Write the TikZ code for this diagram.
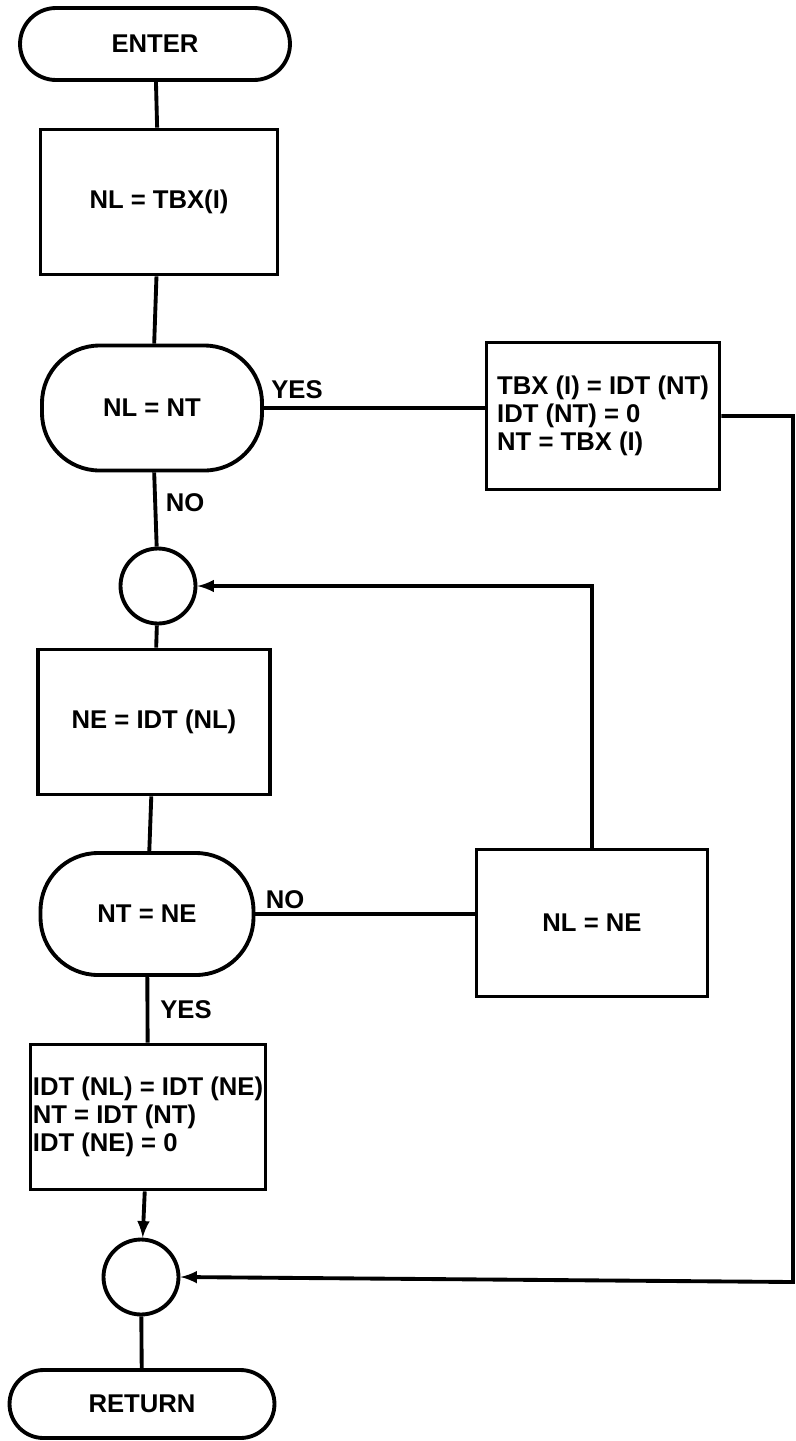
\documentclass[tikz,border=0pt]{standalone}
\usepackage{fontspec}
\setmainfont{Liberation Sans}
\usetikzlibrary{arrows}

\begin{document}
\begin{tikzpicture}[x=0.02cm, y=-0.02cm, >=latex, line width=2.2pt,
  every node/.style={font=\fontsize{14.6}{15.8}\selectfont\bfseries, align=center},
  term/.style={draw, rectangle, inner sep=0pt},
  proc/.style={draw, rectangle, inner sep=0pt},
  test/.style={draw, rectangle, rounded corners=1.15cm, inner sep=0pt},
  junc/.style={draw, circle, minimum size=1.5cm, inner sep=0pt},
  lbl/.style={inner sep=0pt}]
  \useasboundingbox (0,0) rectangle (795,1441);

  \node (enter) [term, rounded corners=0.72cm, minimum width=5.4cm, minimum height=1.44cm] at (155,44) {ENTER};
  \node (setnl) [proc, minimum width=4.74cm, minimum height=2.9cm] at (159,202) {NL = TBX(I)};
  \node (testnt) [test, minimum width=4.4cm, minimum height=2.5cm] at (152,408) {NL = NT};
  \node (resetnt) [proc, minimum width=4.66cm, minimum height=2.94cm, align=left] at (603,416)
    {TBX (I) = IDT (NT)\\IDT (NT) = 0\\NT = TBX (I)};
  \node (circa) [junc] at (158,586) {};
  \node (setne) [proc, minimum width=4.64cm, minimum height=2.9cm] at (154,722) {NE = IDT (NL)};
  \node (testne) [test, minimum width=4.26cm, minimum height=2.44cm] at (147,914) {NT = NE};
  \node (setnle) [proc, minimum width=4.62cm, minimum height=2.94cm] at (592,923) {NL = NE};
  \node (setidt) [proc, minimum width=4.7cm, minimum height=2.9cm, align=left] at (148,1117)
    {IDT (NL) = IDT (NE)\\NT = IDT (NT)\\IDT (NE) = 0};
  \node (circb) [junc] at (141,1277) {};
  \node (ret) [term, rounded corners=0.68cm, minimum width=5.3cm, minimum height=1.36cm] at (142,1404) {RETURN};
  \coordinate (rail) at (793,1282);

  % branch labels
  \node (yesa) [lbl] at (297,390) {YES};
  \node (noa) [lbl] at (185,503) {NO};
  \node (nob) [lbl] at (285,900) {NO};
  \node (yesb) [lbl] at (186,1010) {YES};

  \draw (enter) -- (setnl);
  \draw (setnl) -- (testnt);
  \draw (testnt.east) -- (testnt.east -| resetnt.west);
  \draw[->] (resetnt.east) -| (rail) -- (circb.east);
  \draw (testnt) -- (circa);
  \draw (circa) -- (setne);
  \draw (setne) -- (testne);
  \draw (testne.east) -- (testne.east -| setnle.west);
  \draw[->] (setnle.north) |- (circa.east);
  \draw (testne) -- (setidt);
  \draw[->] (setidt) -- (circb);
  \draw (circb) -- (ret);
\end{tikzpicture}
\end{document}
